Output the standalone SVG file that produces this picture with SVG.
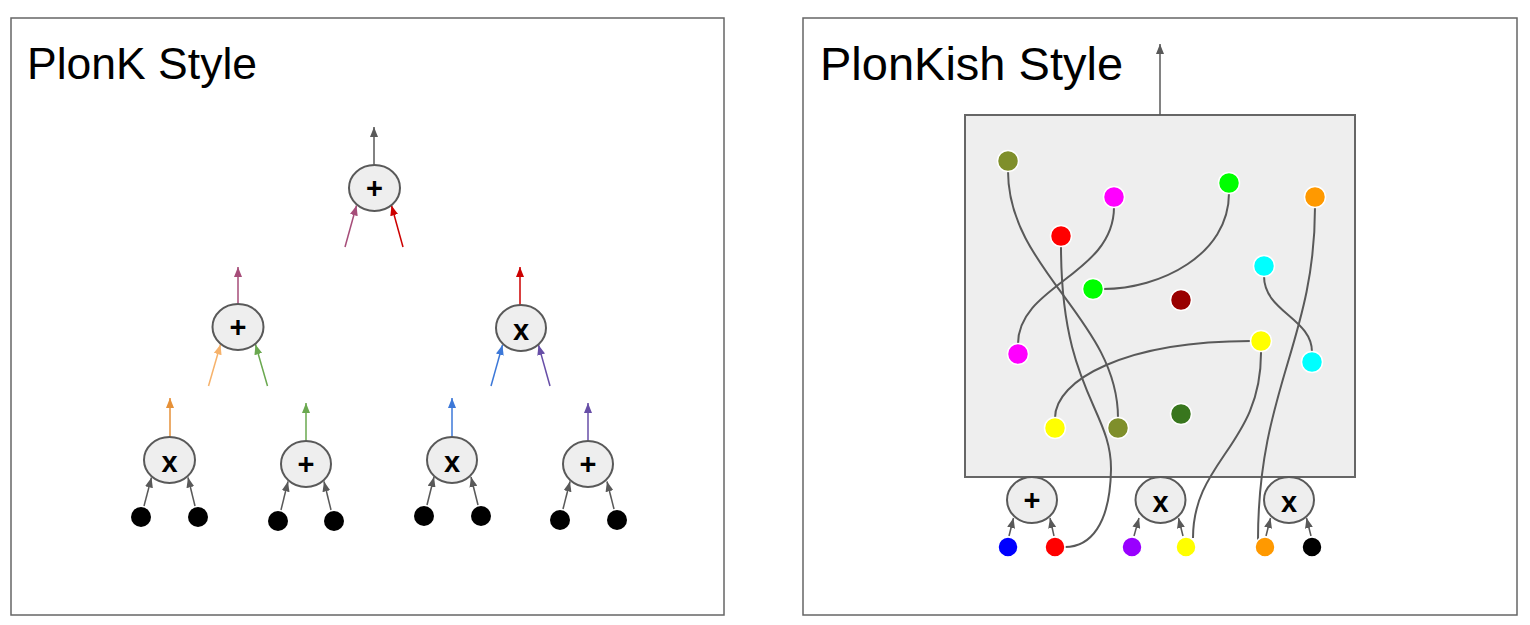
<svg xmlns="http://www.w3.org/2000/svg" width="1530" height="625" viewBox="0 0 1530 625">
<style>
.panel{fill:#ffffff;stroke:#666666;stroke-width:1.5}
.title{font-family:"Liberation Sans",Arial,sans-serif;fill:#000000}
.op{fill:#eeeeee;stroke:#595959;stroke-width:2}
.opt{font-family:"Liberation Sans",Arial,sans-serif;font-weight:bold;font-size:29px;fill:#000000;text-anchor:middle}
.in{fill:#000000}
.ar{fill:none;stroke-width:1.5}
.wire{fill:none;stroke:#595959;stroke-width:2}
.dot{stroke:#ffffff;stroke-width:1.5}
</style>
<defs>
<marker id="mg" markerUnits="userSpaceOnUse" markerWidth="10" markerHeight="8" viewBox="0 0 10 8" refX="10" refY="4" orient="auto"><path d="M0,0 L10,4 L0,8 z" fill="#595959"/></marker>
<marker id="mm" markerUnits="userSpaceOnUse" markerWidth="10" markerHeight="8" viewBox="0 0 10 8" refX="10" refY="4" orient="auto"><path d="M0,0 L10,4 L0,8 z" fill="#a64d79"/></marker>
<marker id="mr" markerUnits="userSpaceOnUse" markerWidth="10" markerHeight="8" viewBox="0 0 10 8" refX="10" refY="4" orient="auto"><path d="M0,0 L10,4 L0,8 z" fill="#cc0000"/></marker>
<marker id="mlo" markerUnits="userSpaceOnUse" markerWidth="10" markerHeight="8" viewBox="0 0 10 8" refX="10" refY="4" orient="auto"><path d="M0,0 L10,4 L0,8 z" fill="#f6b26b"/></marker>
<marker id="mgr" markerUnits="userSpaceOnUse" markerWidth="10" markerHeight="8" viewBox="0 0 10 8" refX="10" refY="4" orient="auto"><path d="M0,0 L10,4 L0,8 z" fill="#6aa84f"/></marker>
<marker id="mb" markerUnits="userSpaceOnUse" markerWidth="10" markerHeight="8" viewBox="0 0 10 8" refX="10" refY="4" orient="auto"><path d="M0,0 L10,4 L0,8 z" fill="#3c78d8"/></marker>
<marker id="mp" markerUnits="userSpaceOnUse" markerWidth="10" markerHeight="8" viewBox="0 0 10 8" refX="10" refY="4" orient="auto"><path d="M0,0 L10,4 L0,8 z" fill="#674ea7"/></marker>
<marker id="mo" markerUnits="userSpaceOnUse" markerWidth="10" markerHeight="8" viewBox="0 0 10 8" refX="10" refY="4" orient="auto"><path d="M0,0 L10,4 L0,8 z" fill="#e69138"/></marker>
</defs>

<g id="panel-plonk">
<rect class="panel" x="11" y="18" width="713" height="597"/>
<text class="title" x="27" y="79" font-size="44.5">PlonK Style</text>
</g>
<g id="panel-plonkish">
<rect class="panel" x="803" y="18" width="714" height="597"/>
<text class="title" x="820" y="80" font-size="47">PlonKish Style</text>
</g>

<g id="plonkish-table">
<rect x="965" y="115" width="390" height="362" fill="#eeeeee" stroke="#666666" stroke-width="2"/>
</g>

<g id="connectors">
<!-- PlonK -->
<line class="ar" stroke="#595959" x1="374" y1="165" x2="374" y2="127" marker-end="url(#mg)"/>
<line class="ar" stroke="#a64d79" x1="345" y1="247" x2="356.5" y2="205.5" marker-end="url(#mm)"/>
<line class="ar" stroke="#cc0000" x1="403" y1="247" x2="391.5" y2="205.5" marker-end="url(#mr)"/>
<line class="ar" stroke="#a64d79" x1="238" y1="304" x2="238" y2="267" marker-end="url(#mm)"/>
<line class="ar" stroke="#f6b26b" x1="208.5" y1="386" x2="220.5" y2="344.5" marker-end="url(#mlo)"/>
<line class="ar" stroke="#6aa84f" x1="267.5" y1="386" x2="255.5" y2="344.5" marker-end="url(#mgr)"/>
<line class="ar" stroke="#cc0000" x1="520" y1="305" x2="520" y2="267" marker-end="url(#mr)"/>
<line class="ar" stroke="#3c78d8" x1="491" y1="386" x2="502.5" y2="345" marker-end="url(#mb)"/>
<line class="ar" stroke="#674ea7" x1="550" y1="386" x2="538.5" y2="345" marker-end="url(#mp)"/>
<line class="ar" stroke="#e69138" x1="170" y1="437" x2="170" y2="398" marker-end="url(#mo)"/>
<line class="ar" stroke="#6aa84f" x1="306" y1="441" x2="306" y2="403" marker-end="url(#mgr)"/>
<line class="ar" stroke="#3c78d8" x1="452" y1="437" x2="452" y2="398" marker-end="url(#mb)"/>
<line class="ar" stroke="#674ea7" x1="588" y1="441" x2="588" y2="403" marker-end="url(#mp)"/>
<line class="ar" stroke="#595959" x1="144" y1="506" x2="151.5" y2="477.5" marker-end="url(#mg)"/>
<line class="ar" stroke="#595959" x1="195" y1="506" x2="188" y2="477.5" marker-end="url(#mg)"/>
<line class="ar" stroke="#595959" x1="281" y1="510" x2="288" y2="481.5" marker-end="url(#mg)"/>
<line class="ar" stroke="#595959" x1="331" y1="510" x2="324" y2="481.5" marker-end="url(#mg)"/>
<line class="ar" stroke="#595959" x1="427" y1="505" x2="434" y2="477" marker-end="url(#mg)"/>
<line class="ar" stroke="#595959" x1="478" y1="505" x2="471" y2="477" marker-end="url(#mg)"/>
<line class="ar" stroke="#595959" x1="563" y1="509" x2="570" y2="481.5" marker-end="url(#mg)"/>
<line class="ar" stroke="#595959" x1="614" y1="509" x2="607" y2="481.5" marker-end="url(#mg)"/>
<!-- PlonKish -->
<line class="ar" stroke="#595959" x1="1160" y1="115" x2="1160" y2="44" marker-end="url(#mg)"/>
<line class="ar" stroke="#595959" x1="1009" y1="536" x2="1013.5" y2="518" marker-end="url(#mg)"/>
<line class="ar" stroke="#595959" x1="1054" y1="536" x2="1050" y2="518" marker-end="url(#mg)"/>
<line class="ar" stroke="#595959" x1="1134" y1="536" x2="1139" y2="518" marker-end="url(#mg)"/>
<line class="ar" stroke="#595959" x1="1183" y1="536" x2="1178.5" y2="518" marker-end="url(#mg)"/>
<line class="ar" stroke="#595959" x1="1266" y1="536" x2="1270.5" y2="518" marker-end="url(#mg)"/>
<line class="ar" stroke="#595959" x1="1311" y1="536" x2="1306.5" y2="518" marker-end="url(#mg)"/>
<path class="wire" d="M1008,171 C1008,270 1118,320 1118,418"/>
<path class="wire" d="M1114,207 C1114,275 1018,285 1018,344"/>
<path class="wire" d="M1229,193 C1229,255 1160,289 1103,289"/>
<path class="wire" d="M1061,246 C1061,390 1112,410 1111,470 C1110,525 1090,547 1065,547"/>
<path class="wire" d="M1264,276 C1264,312 1312,318 1312,352"/>
<path class="wire" d="M1251,341 C1125,341 1055,380 1055,418"/>
<path class="wire" d="M1261,351 C1262,445 1193,460 1193,538"/>
<path class="wire" d="M1315,207 C1315,340 1258,390 1258,540"/>
</g>

<g id="plonk-root"><ellipse class="op" cx="374.5" cy="188" rx="25.5" ry="23"/><text class="opt" x="374.5" y="198">+</text></g>
<g id="plonk-add-l"><ellipse class="op" cx="238" cy="327" rx="25.5" ry="23"/><text class="opt" x="238" y="337">+</text></g>
<g id="plonk-mul-r"><ellipse class="op" cx="521" cy="328" rx="25" ry="23"/><text class="opt" x="521" y="340">x</text></g>
<g id="plonk-mul-1"><ellipse class="op" cx="169.5" cy="460" rx="25.5" ry="23"/><text class="opt" x="169.5" y="472">x</text></g>
<g id="plonk-add-2"><ellipse class="op" cx="306" cy="464" rx="25" ry="23"/><text class="opt" x="306" y="474">+</text></g>
<g id="plonk-mul-3"><ellipse class="op" cx="452" cy="460" rx="25" ry="23"/><text class="opt" x="452" y="472">x</text></g>
<g id="plonk-add-4"><ellipse class="op" cx="588" cy="464" rx="25" ry="23"/><text class="opt" x="588" y="474">+</text></g>

<g id="plonk-inputs">
<circle class="in" cx="141" cy="517" r="10"/><circle class="in" cx="198" cy="517" r="10"/>
<circle class="in" cx="278" cy="521" r="10"/><circle class="in" cx="334" cy="521" r="10"/>
<circle class="in" cx="424" cy="516" r="10"/><circle class="in" cx="481" cy="516" r="10"/>
<circle class="in" cx="560" cy="520" r="10"/><circle class="in" cx="617" cy="520" r="10"/>
</g>

<g id="plonkish-cells">
<circle class="dot" cx="1008" cy="161" r="10.5" fill="#7f8f2b"/>
<circle class="dot" cx="1114" cy="197" r="10.5" fill="#ff00ff"/>
<circle class="dot" cx="1229" cy="183" r="10.5" fill="#00ff00"/>
<circle class="dot" cx="1315" cy="197" r="10.5" fill="#ff9900"/>
<circle class="dot" cx="1061" cy="236" r="10.5" fill="#ff0000"/>
<circle class="dot" cx="1264" cy="266" r="10.5" fill="#00ffff"/>
<circle class="dot" cx="1093" cy="289" r="10.5" fill="#00ff00"/>
<circle class="dot" cx="1181" cy="300" r="10.5" fill="#990000"/>
<circle class="dot" cx="1261" cy="341" r="10.5" fill="#ffff00"/>
<circle class="dot" cx="1312" cy="362" r="10.5" fill="#00ffff"/>
<circle class="dot" cx="1018" cy="354" r="10.5" fill="#ff00ff"/>
<circle class="dot" cx="1055" cy="428" r="10.5" fill="#ffff00"/>
<circle class="dot" cx="1118" cy="428" r="10.5" fill="#7f8f2b"/>
<circle class="dot" cx="1181" cy="414" r="10.5" fill="#38761d"/>
</g>

<g id="plonkish-add"><ellipse class="op" cx="1032" cy="500" rx="25" ry="23"/><text class="opt" x="1032" y="510">+</text></g>
<g id="plonkish-mul-1"><ellipse class="op" cx="1160.5" cy="500" rx="25" ry="23"/><text class="opt" x="1160.5" y="512">x</text></g>
<g id="plonkish-mul-2"><ellipse class="op" cx="1289" cy="500" rx="25" ry="23"/><text class="opt" x="1289" y="512">x</text></g>

<g id="plonkish-inputs">
<circle class="dot" cx="1008" cy="547" r="10" fill="#0000ff"/>
<circle class="dot" cx="1055" cy="547" r="10" fill="#ff0000"/>
<circle class="dot" cx="1132" cy="547" r="10" fill="#9900ff"/>
<circle class="dot" cx="1186" cy="547" r="10" fill="#ffff00"/>
<circle class="dot" cx="1265" cy="547" r="10" fill="#ff9900"/>
<circle class="dot" cx="1312" cy="547" r="10" fill="#000000"/>
</g>
</svg>
